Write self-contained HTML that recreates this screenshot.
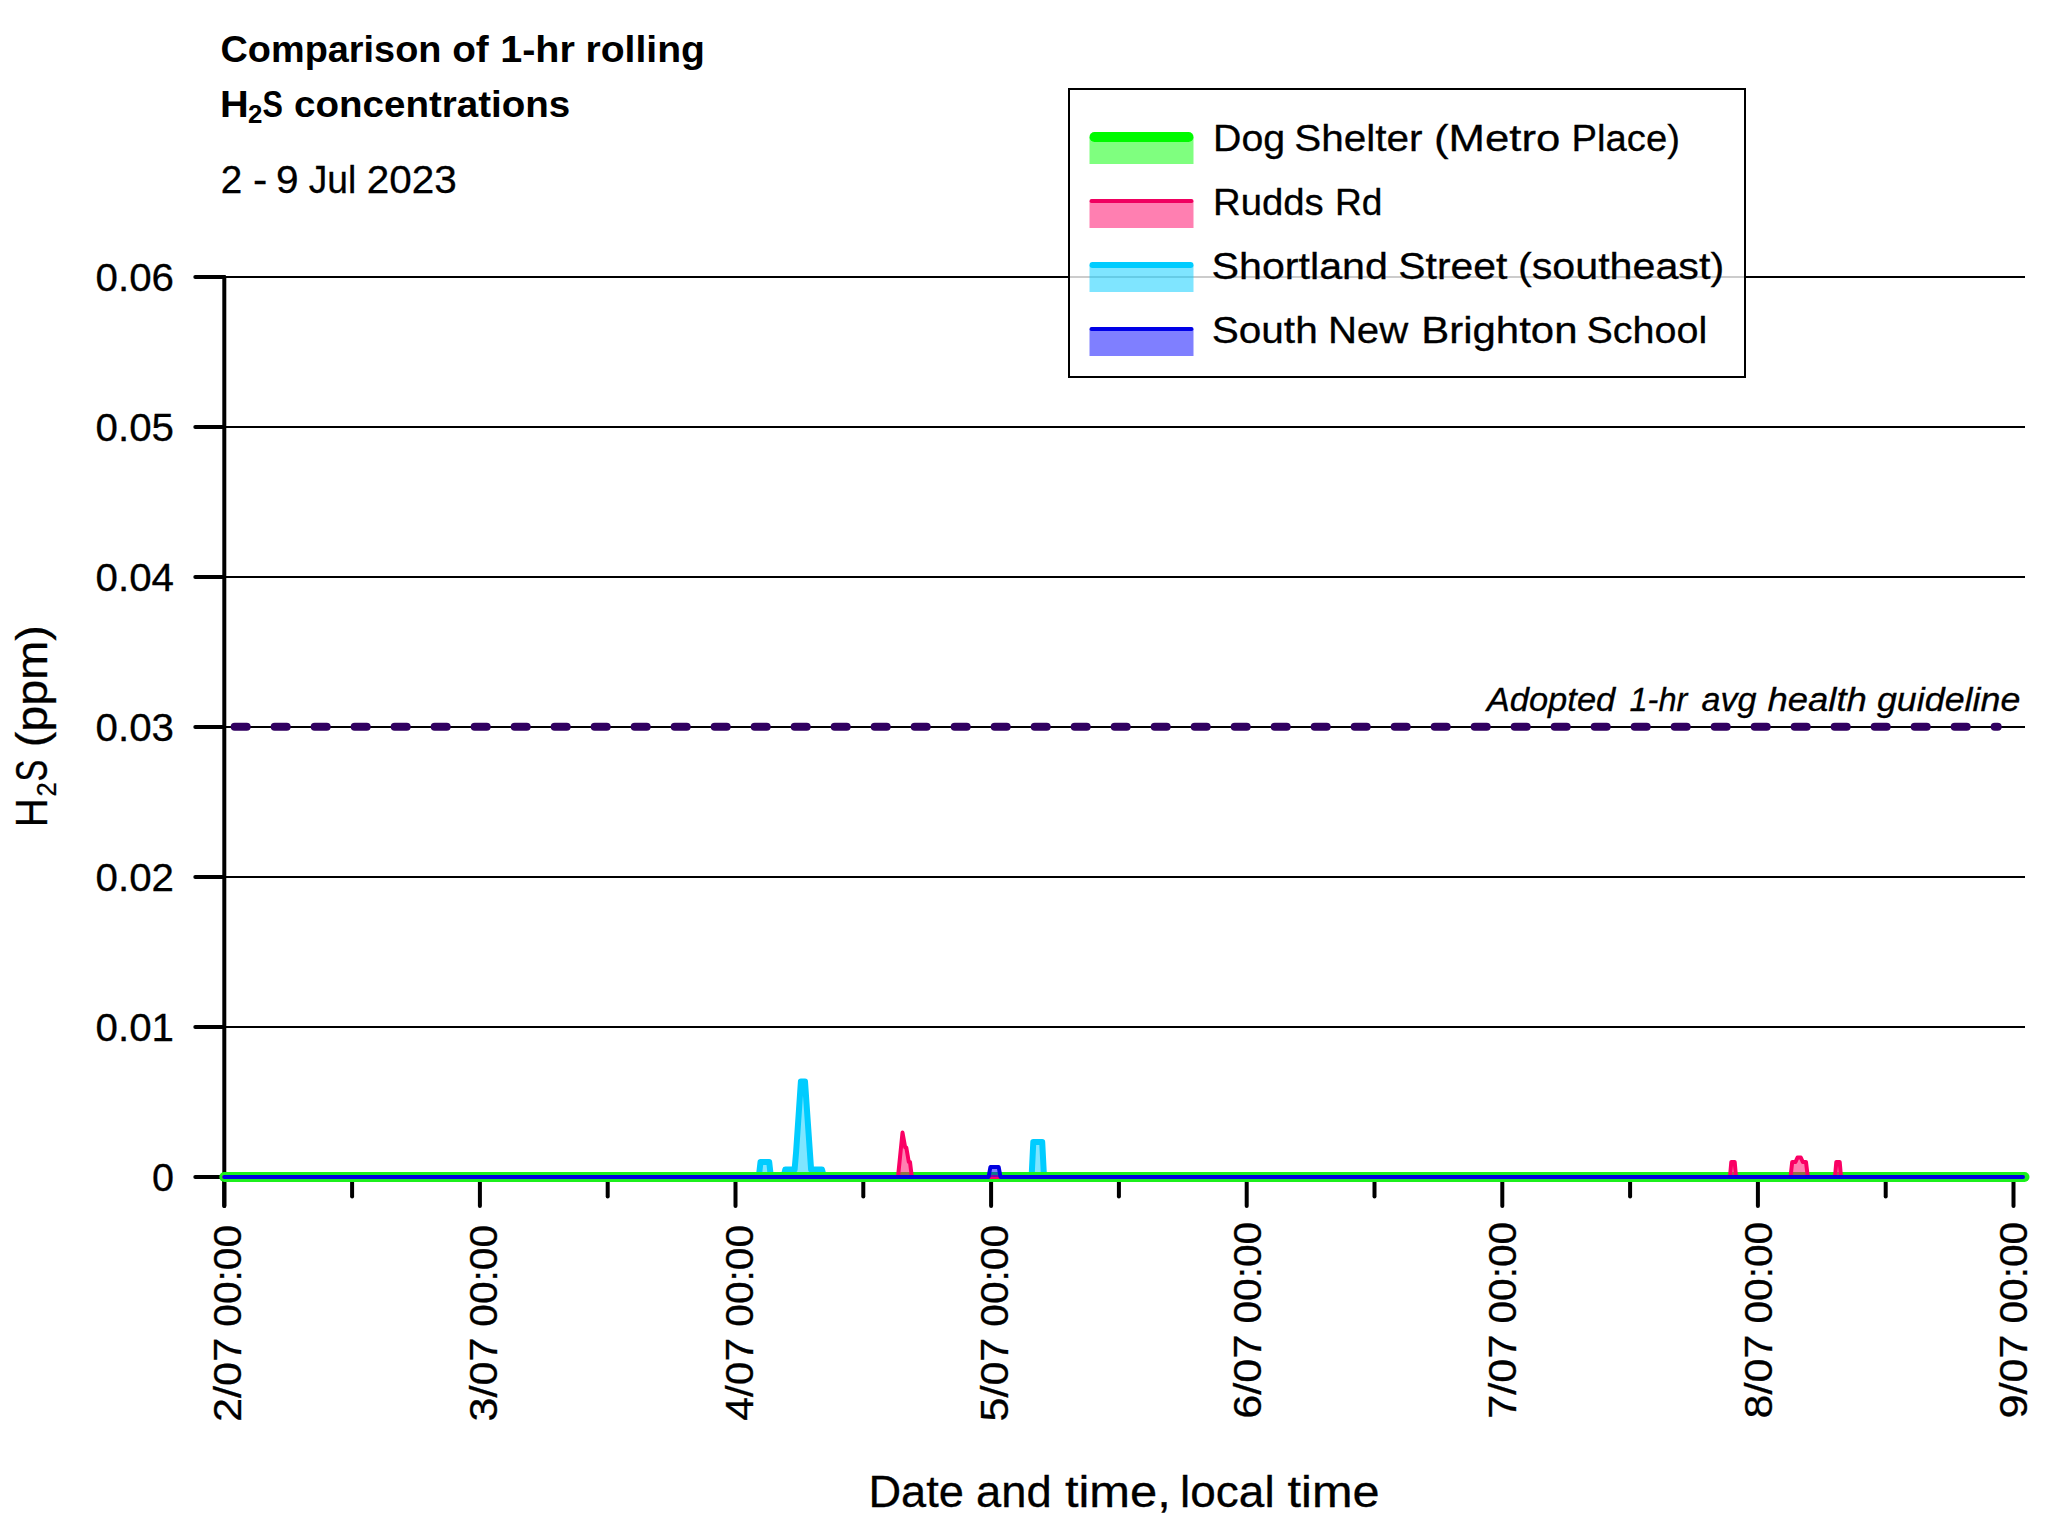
<!DOCTYPE html>
<html lang="en">
<head>
<meta charset="utf-8">
<title>Comparison of 1-hr rolling H2S concentrations</title>
<style>
html,body{margin:0;padding:0;background:#fff;}
body{width:2070px;height:1522px;overflow:hidden;}
svg{display:block;}
text{font-family:"Liberation Sans",sans-serif;fill:#000;stroke:#000;stroke-width:0.3px;}
.t{stroke-width:0.5px;}
.b{font-weight:bold;stroke-width:0;}
.i{font-style:italic;}
</style>
</head>
<body>
<svg width="2070" height="1522" viewBox="0 0 2070 1522">
<rect x="0" y="0" width="2070" height="1522" fill="#ffffff"/>

<g stroke="#000" stroke-width="2" fill="none">
<line x1="224.3" y1="1027.0" x2="2025" y2="1027.0"/>
<line x1="224.3" y1="877.0" x2="2025" y2="877.0"/>
<line x1="224.3" y1="727.0" x2="2025" y2="727.0"/>
<line x1="224.3" y1="577.0" x2="2025" y2="577.0"/>
<line x1="224.3" y1="427.0" x2="2025" y2="427.0"/>
<line x1="224.3" y1="277.0" x2="2025" y2="277.0"/>
</g>
<g stroke="#000" stroke-width="4" stroke-linecap="round" fill="none">
<line x1="224.3" y1="277" x2="224.3" y2="1206"/>
<line x1="224.3" y1="1177.0" x2="2013.5" y2="1177.0"/>
<line x1="195.3" y1="1177.0" x2="224.3" y2="1177.0"/>
<line x1="195.3" y1="1027.0" x2="224.3" y2="1027.0"/>
<line x1="195.3" y1="877.0" x2="224.3" y2="877.0"/>
<line x1="195.3" y1="727.0" x2="224.3" y2="727.0"/>
<line x1="195.3" y1="577.0" x2="224.3" y2="577.0"/>
<line x1="195.3" y1="427.0" x2="224.3" y2="427.0"/>
<line x1="195.3" y1="277.0" x2="224.3" y2="277.0"/>
<line x1="224.3" y1="1177.0" x2="224.3" y2="1206"/>
<line x1="479.9" y1="1177.0" x2="479.9" y2="1206"/>
<line x1="735.5" y1="1177.0" x2="735.5" y2="1206"/>
<line x1="991.1" y1="1177.0" x2="991.1" y2="1206"/>
<line x1="1246.7" y1="1177.0" x2="1246.7" y2="1206"/>
<line x1="1502.3" y1="1177.0" x2="1502.3" y2="1206"/>
<line x1="1757.9" y1="1177.0" x2="1757.9" y2="1206"/>
<line x1="2013.5" y1="1177.0" x2="2013.5" y2="1206"/>
<line x1="352.1" y1="1177.0" x2="352.1" y2="1196.5"/>
<line x1="607.7" y1="1177.0" x2="607.7" y2="1196.5"/>
<line x1="863.3" y1="1177.0" x2="863.3" y2="1196.5"/>
<line x1="1118.9" y1="1177.0" x2="1118.9" y2="1196.5"/>
<line x1="1374.5" y1="1177.0" x2="1374.5" y2="1196.5"/>
<line x1="1630.1" y1="1177.0" x2="1630.1" y2="1196.5"/>
<line x1="1885.7" y1="1177.0" x2="1885.7" y2="1196.5"/>
</g>
<g>
<path d="M224.3,1177.0 L758.8,1177.0 L760.5,1162.0 L769.2,1162.0 L770.9,1177.0 L783.6,1177.0 L785.3,1169.5 L794.6,1169.5 L796.1,1152.0 L800.9,1081.5 L805.0,1081.5 L811.1,1169.5 L822.0,1169.5 L823.8,1177.0 L1031.6,1177.0 L1033.3,1142.0 L1042.2,1142.0 L1044.0,1177.0 L2022.0,1177.0 Z" fill="rgba(0,204,255,0.5)" stroke="none"/><path d="M224.3,1177.0 L758.8,1177.0 L760.5,1162.0 L769.2,1162.0 L770.9,1177.0 L783.6,1177.0 L785.3,1169.5 L794.6,1169.5 L796.1,1152.0 L800.9,1081.5 L805.0,1081.5 L811.1,1169.5 L822.0,1169.5 L823.8,1177.0 L1031.6,1177.0 L1033.3,1142.0 L1042.2,1142.0 L1044.0,1177.0 L2022.0,1177.0" fill="none" stroke="#00ccff" stroke-width="6" stroke-linecap="round" stroke-linejoin="round"/>
<path d="M224.3,1177.0 L2024.5,1177.0 Z" fill="none" stroke="none"/><path d="M224.3,1177.0 L2024.5,1177.0" fill="none" stroke="#1cf01c" stroke-width="10" stroke-linecap="round" stroke-linejoin="round"/>
<path d="M224.3,1177.0 L898.0,1177.0 L902.5,1132.6 L905.2,1147.5 L906.3,1147.5 L908.8,1162.0 L910.0,1162.0 L911.8,1177.0 L1730.0,1177.0 L1731.3,1162.0 L1734.7,1162.0 L1736.0,1177.0 L1790.5,1177.0 L1792.2,1162.0 L1795.5,1162.0 L1797.5,1157.5 L1800.8,1157.5 L1802.8,1162.0 L1806.0,1162.0 L1807.8,1177.0 L1835.0,1177.0 L1836.3,1162.0 L1839.7,1162.0 L1841.0,1177.0 L2022.0,1177.0 Z" fill="rgba(255,0,100,0.5)" stroke="none"/><path d="M224.3,1177.0 L898.0,1177.0 L902.5,1132.6 L905.2,1147.5 L906.3,1147.5 L908.8,1162.0 L910.0,1162.0 L911.8,1177.0 L1730.0,1177.0 L1731.3,1162.0 L1734.7,1162.0 L1736.0,1177.0 L1790.5,1177.0 L1792.2,1162.0 L1795.5,1162.0 L1797.5,1157.5 L1800.8,1157.5 L1802.8,1162.0 L1806.0,1162.0 L1807.8,1177.0 L1835.0,1177.0 L1836.3,1162.0 L1839.7,1162.0 L1841.0,1177.0 L2022.0,1177.0" fill="none" stroke="#fa0064" stroke-width="4" stroke-linecap="round" stroke-linejoin="round"/>
<path d="M224.3,1177.0 L988.6,1177.0 L990.4,1167.0 L998.7,1167.0 L1000.5,1177.0 L2023.0,1177.0 Z" fill="rgba(0,0,255,0.5)" stroke="none"/><path d="M224.3,1177.0 L988.6,1177.0 L990.4,1167.0 L998.7,1167.0 L1000.5,1177.0 L2023.0,1177.0" fill="none" stroke="#0000e0" stroke-width="4" stroke-linecap="round" stroke-linejoin="round"/>
</g>
<line x1="234.7" y1="726.8" x2="1997.7" y2="726.8" stroke="#300060" stroke-width="8" stroke-linecap="round" stroke-dasharray="12 28"/>
<rect x="1069" y="89" width="676" height="288" fill="rgba(255,255,255,0.8)" stroke="#000" stroke-width="2"/>
<rect x="1089.5" y="137" width="104" height="27" fill="rgba(0,255,0,0.5)"/>
<line x1="1094.5" y1="137" x2="1188.5" y2="137" stroke="#00fa00" stroke-width="10" stroke-linecap="round"/>
<rect x="1089.5" y="201" width="104" height="27" fill="rgba(255,0,100,0.5)"/>
<line x1="1091.5" y1="201" x2="1191.5" y2="201" stroke="#f00060" stroke-width="4" stroke-linecap="round"/>
<rect x="1089.5" y="265" width="104" height="27" fill="rgba(0,204,255,0.5)"/>
<line x1="1092.5" y1="265" x2="1190.5" y2="265" stroke="#00ccff" stroke-width="6" stroke-linecap="round"/>
<rect x="1089.5" y="329" width="104" height="27" fill="rgba(0,0,255,0.5)"/>
<line x1="1091.5" y1="329" x2="1191.5" y2="329" stroke="#0000e6" stroke-width="4" stroke-linecap="round"/>
<text x="1213.0" y="151" font-size="37.5" textLength="72.1" lengthAdjust="spacingAndGlyphs">Dog</text>
<text x="1294.2" y="151" font-size="37.5" textLength="128.4" lengthAdjust="spacingAndGlyphs">Shelter</text>
<text x="1434.0" y="151" font-size="37.5" textLength="126.3" lengthAdjust="spacingAndGlyphs">(Metro</text>
<text x="1571.6" y="151" font-size="37.5" textLength="108.3" lengthAdjust="spacingAndGlyphs">Place)</text>
<text x="1213.1" y="215" font-size="37.5" textLength="110.6" lengthAdjust="spacingAndGlyphs">Rudds</text>
<text x="1335.0" y="215" font-size="37.5" textLength="47.4" lengthAdjust="spacingAndGlyphs">Rd</text>
<text x="1211.6" y="279" font-size="37.5" textLength="176.3" lengthAdjust="spacingAndGlyphs">Shortland</text>
<text x="1398.3" y="279" font-size="37.5" textLength="109.1" lengthAdjust="spacingAndGlyphs">Street</text>
<text x="1518.0" y="279" font-size="37.5" textLength="206.1" lengthAdjust="spacingAndGlyphs">(southeast)</text>
<text x="1211.7" y="343" font-size="37.5" textLength="106.0" lengthAdjust="spacingAndGlyphs">South</text>
<text x="1327.9" y="343" font-size="37.5" textLength="80.3" lengthAdjust="spacingAndGlyphs">New</text>
<text x="1421.2" y="343" font-size="37.5" textLength="156.3" lengthAdjust="spacingAndGlyphs">Brighton</text>
<text x="1586.5" y="343" font-size="37.5" textLength="120.7" lengthAdjust="spacingAndGlyphs">School</text>
<text class="b" x="220.5" y="62.3" font-size="36.5" textLength="220.9" lengthAdjust="spacingAndGlyphs">Comparison</text>
<text class="b" x="452.2" y="62.3" font-size="36.5" textLength="36.6" lengthAdjust="spacingAndGlyphs">of</text>
<text class="b" x="500.2" y="62.3" font-size="36.5" textLength="74.7" lengthAdjust="spacingAndGlyphs">1-hr</text>
<text class="b" x="585.5" y="62.3" font-size="36.5" textLength="119.5" lengthAdjust="spacingAndGlyphs">rolling</text>
<text class="b" x="219.9" y="116.7" font-size="36.5" textLength="28.7" lengthAdjust="spacingAndGlyphs">H</text>
<text class="b" x="262.4" y="116.7" font-size="36.5" textLength="20.4" lengthAdjust="spacingAndGlyphs">S</text>
<text class="b" x="294.0" y="116.7" font-size="36.5" textLength="276.3" lengthAdjust="spacingAndGlyphs">concentrations</text>
<text class="b" x="248.1" y="122.6" font-size="25.5" textLength="14.4" lengthAdjust="spacingAndGlyphs">2</text>
<text x="220.7" y="193.3" font-size="39.5" textLength="21.5" lengthAdjust="spacingAndGlyphs">2</text>
<text x="252.9" y="193.3" font-size="39.5" textLength="14.3" lengthAdjust="spacingAndGlyphs">-</text>
<text x="276.0" y="193.3" font-size="39.5" textLength="22.6" lengthAdjust="spacingAndGlyphs">9</text>
<text x="308.7" y="193.3" font-size="39.5" textLength="47.5" lengthAdjust="spacingAndGlyphs">Jul</text>
<text x="366.8" y="193.3" font-size="39.5" textLength="90.0" lengthAdjust="spacingAndGlyphs">2023</text>
<text x="174" y="1191.2" font-size="39.5" text-anchor="end" textLength="22" lengthAdjust="spacingAndGlyphs">0</text>
<text x="174" y="1041.2" font-size="39.5" text-anchor="end" textLength="78.5" lengthAdjust="spacingAndGlyphs">0.01</text>
<text x="174" y="891.2" font-size="39.5" text-anchor="end" textLength="78.5" lengthAdjust="spacingAndGlyphs">0.02</text>
<text x="174" y="741.2" font-size="39.5" text-anchor="end" textLength="78.5" lengthAdjust="spacingAndGlyphs">0.03</text>
<text x="174" y="591.2" font-size="39.5" text-anchor="end" textLength="78.5" lengthAdjust="spacingAndGlyphs">0.04</text>
<text x="174" y="441.2" font-size="39.5" text-anchor="end" textLength="78.5" lengthAdjust="spacingAndGlyphs">0.05</text>
<text x="174" y="291.2" font-size="39.5" text-anchor="end" textLength="78.5" lengthAdjust="spacingAndGlyphs">0.06</text>
<g transform="translate(241.4,0) rotate(-90)">
<text x="-1422.0" y="0" font-size="39.5" textLength="84.3" lengthAdjust="spacingAndGlyphs">2/07</text>
<text x="-1326.7" y="0" font-size="39.5" textLength="101.7" lengthAdjust="spacingAndGlyphs">00:00</text>
</g>
<g transform="translate(497.0,0) rotate(-90)">
<text x="-1421.4" y="0" font-size="39.5" textLength="83.7" lengthAdjust="spacingAndGlyphs">3/07</text>
<text x="-1326.7" y="0" font-size="39.5" textLength="101.7" lengthAdjust="spacingAndGlyphs">00:00</text>
</g>
<g transform="translate(752.6,0) rotate(-90)">
<text x="-1420.8" y="0" font-size="39.5" textLength="83.0" lengthAdjust="spacingAndGlyphs">4/07</text>
<text x="-1326.7" y="0" font-size="39.5" textLength="101.7" lengthAdjust="spacingAndGlyphs">00:00</text>
</g>
<g transform="translate(1008.2,0) rotate(-90)">
<text x="-1421.5" y="0" font-size="39.5" textLength="83.8" lengthAdjust="spacingAndGlyphs">5/07</text>
<text x="-1326.7" y="0" font-size="39.5" textLength="101.7" lengthAdjust="spacingAndGlyphs">00:00</text>
</g>
<g transform="translate(1260.6,-3.2) rotate(-90)">
<text x="-1422.0" y="0" font-size="39.5" textLength="84.3" lengthAdjust="spacingAndGlyphs">6/07</text>
<text x="-1326.7" y="0" font-size="39.5" textLength="101.7" lengthAdjust="spacingAndGlyphs">00:00</text>
</g>
<g transform="translate(1516.2,-3.2) rotate(-90)">
<text x="-1422.0" y="0" font-size="39.5" textLength="84.3" lengthAdjust="spacingAndGlyphs">7/07</text>
<text x="-1326.7" y="0" font-size="39.5" textLength="101.7" lengthAdjust="spacingAndGlyphs">00:00</text>
</g>
<g transform="translate(1771.8,-3.2) rotate(-90)">
<text x="-1421.7" y="0" font-size="39.5" textLength="83.9" lengthAdjust="spacingAndGlyphs">8/07</text>
<text x="-1326.7" y="0" font-size="39.5" textLength="101.7" lengthAdjust="spacingAndGlyphs">00:00</text>
</g>
<g transform="translate(2027.4,-3.2) rotate(-90)">
<text x="-1421.8" y="0" font-size="39.5" textLength="84.1" lengthAdjust="spacingAndGlyphs">9/07</text>
<text x="-1326.7" y="0" font-size="39.5" textLength="101.7" lengthAdjust="spacingAndGlyphs">00:00</text>
</g>
<text x="868.5" y="1507.2" font-size="44" textLength="95.4" lengthAdjust="spacingAndGlyphs" stroke-width="0.55">Date</text>
<text x="976.0" y="1507.2" font-size="44" textLength="75.6" lengthAdjust="spacingAndGlyphs" stroke-width="0.55">and</text>
<text x="1064.9" y="1507.2" font-size="44" textLength="105.9" lengthAdjust="spacingAndGlyphs" stroke-width="0.55">time,</text>
<text x="1180.1" y="1507.2" font-size="44" textLength="94.5" lengthAdjust="spacingAndGlyphs" stroke-width="0.55">local</text>
<text x="1287.6" y="1507.2" font-size="44" textLength="92.0" lengthAdjust="spacingAndGlyphs" stroke-width="0.55">time</text>
<g transform="translate(47.3,0) rotate(-90)">
<text x="-827.3" y="0" font-size="44.5" textLength="29.0" lengthAdjust="spacingAndGlyphs" stroke-width="0.55">H</text>
<text x="-781.4" y="0" font-size="44.5" textLength="21.8" lengthAdjust="spacingAndGlyphs" stroke-width="0.55">S</text>
<text x="-747.3" y="0" font-size="44.5" textLength="122.2" lengthAdjust="spacingAndGlyphs" stroke-width="0.55">(ppm)</text>
<text x="-796.4" y="8.6" font-size="27.5" textLength="14.2" lengthAdjust="spacingAndGlyphs" stroke-width="0.45">2</text>
</g>
<text class="i" x="1486.7" y="710.7" font-size="33" textLength="128.6" lengthAdjust="spacingAndGlyphs" stroke="#000" stroke-width="0.45">Adopted</text>
<text class="i" x="1629.5" y="710.7" font-size="33" textLength="57.8" lengthAdjust="spacingAndGlyphs" stroke="#000" stroke-width="0.45">1-hr</text>
<text class="i" x="1701.5" y="710.7" font-size="33" textLength="55.0" lengthAdjust="spacingAndGlyphs" stroke="#000" stroke-width="0.45">avg</text>
<text class="i" x="1767.4" y="710.7" font-size="33" textLength="99.5" lengthAdjust="spacingAndGlyphs" stroke="#000" stroke-width="0.45">health</text>
<text class="i" x="1876.9" y="710.7" font-size="33" textLength="143.5" lengthAdjust="spacingAndGlyphs" stroke="#000" stroke-width="0.45">guideline</text>
</svg>
</body>
</html>
